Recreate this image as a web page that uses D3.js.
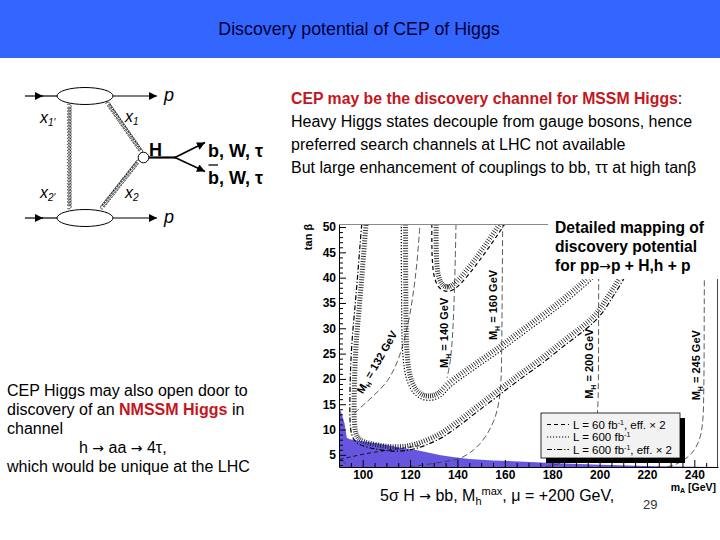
<!DOCTYPE html>
<html><head><meta charset="utf-8">
<script src="https://cdnjs.cloudflare.com/ajax/libs/d3/7.8.5/d3.min.js"></script>
<style>
html,body{margin:0;padding:0;background:#fff;}
svg{display:block;}
text{font-family:"Liberation Sans",Arial,Helvetica,sans-serif;}
</style></head><body>
<svg id="slide" width="720" height="540" viewBox="0 0 720 540"></svg>
<script>
// ---------------- data ----------------
const titleText = "Discovery potential of CEP of Higgs";
const xTickValues = [100,120,140,160,180,200,220,240];
const yTickValues = [5,10,15,20,25,30,35,40,45,50];
const xDomain = [90,250];
const yDomain = [2.6,50.6];

// excluded (shaded) region: upper edge
const excludedMA   = [90, 90.8, 92.3, 93.3, 94.6, 100, 106, 112, 117, 122, 128, 133, 138, 145, 155, 166, 180, 200, 220, 240, 250];
const excludedTanb = [13.9, 13.6, 11.3, 8.4, 8.1, 7.7, 7.3, 6.8, 6.3, 6.0, 5.4, 4.9, 4.6, 4.2, 3.9, 3.7, 3.4, 3.05, 2.8, 2.65, 2.6];

// 5 sigma contours [mA, tanb]
const contourL60eff2 = [[129.2,50.6],[129.2,47],[129.4,43.5],[130.1,40.5],[131.5,38.6],[133.5,37.6],[136,37.3],[138.5,37.7],[141.5,38.9],[145,40.8],[149,43.2],[153,45.8],[157,48.5],[160,50.6]];
const contourL600 = [[116.3,50.6],[116.3,44],[116.4,37],[116.5,31],[116.8,26],[117.6,22],[119,19.3],[121.5,17.2],[125,16],[129,15.8],[133,16.5],[137,18.4],[143,20.5],[150,22.8],[158,25.4],[166,28.2],[175,31.3],[184,34.5],[192,37.6],[199,40.6],[207,44.2],[216,48.5]];
const contourL600eff2 = [[99.6,50.6],[98.8,46],[97.8,40],[96.7,34],[95.6,28],[94.9,22],[94.6,16],[94.7,11.5],[95.4,9],[97,7.6],[100,6.8],[105,6.2],[111,5.8],[117,5.8],[122,6.2],[127,7.0],[133,8.3],[140,10.5],[148,13.4],[157,16.6],[166,19.8],[176,23.2],[186,26.9],[193,29.4],[198,31.4],[202,33.6],[205,35.8],[208,38],[212,41.2],[217,45]];
const contourLowBranch = [[90.3,4.1],[95,4.6],[100,5.1],[106,5.6],[112,6.0],[118,6.4],[124,6.8]];

// M_H iso-mass lines [mA, tanb]
const mh132 = [[96.5,13.2],[99,14.3],[103,16],[107,17.8],[110.5,19.7],[113.5,22.2],[116,25.2],[118,28.6],[119.8,32.5],[121.5,37.5],[122.9,43],[124.2,50.6]];
const mh140 = [[139.4,50.6],[139.1,44],[138.7,37],[138.2,31],[137.6,26.5],[136.8,23],[135.6,20.2]];
const mh160 = [[119.5,2.6],[127,3.1],[135,3.7],[141,4.3],[145.5,5.5],[149.5,7.2],[153,9.5],[155.8,12.3],[157.6,15.8],[158.4,20],[158.7,27],[158.9,38],[159.1,50.6]];
const mh200 = [[177,2.6],[184,3.4],[189.5,4.4],[193.5,5.7],[196.5,7.6],[198.4,10.3],[199.2,14],[199.5,20],[199.6,35],[199.7,50.6]];
const mh245 = [[228.5,2.6],[233,3.3],[237,4.5],[240.3,6.2],[242.5,8.6],[243.6,12],[244,18],[244.2,35],[244.3,50.6]];
const mhStub = [[91.3,4.1],[92.7,3.2],[94,2.6]];

const mhLabelMasses = ["132","140","160","200","245"];
const mhLabelMA   = [106,134.3,155,195.5,240.7];
const mhLabelTanb = [23.3,29.1,34.6,23,22.7];

const legendLumi = ["60","600","600"];
const legendEff  = [", eff. \u00d7 2","",", eff. \u00d7 2"];

// ---------------- styles / layout ----------------
const FONT = '"Liberation Sans",Arial,Helvetica,sans-serif';
const SERIF = '"Liberation Serif","DejaVu Serif",serif';
const ARROWFONT = '"DejaVu Sans",sans-serif';
const svg = d3.select('#slide');
const defs = svg.append('defs');
defs.append('marker').attr('id','arr').attr('viewBox','0 0 10 10').attr('refX',10).attr('refY',5)
  .attr('markerWidth',9).attr('markerHeight',8).attr('markerUnits','userSpaceOnUse').attr('orient','auto')
  .append('path').attr('d','M0,0L10,5L0,10Z').attr('fill','#000');

// title bar
svg.append('rect').attr('x',0).attr('y',0).attr('width',720).attr('height',58).attr('fill','#3366ff');
svg.append('text').attr('x',359).attr('y',35).attr('text-anchor','middle').attr('font-size',17.8)
  .attr('fill','#000033').text(titleText);

// ---------------- Feynman diagram ----------------
const fd = svg.append('g').attr('stroke','#000').attr('fill','none');
function gluon(x1,y1,x2,y2,pitch,amp){
  const dx=x2-x1, dy=y2-y1, L=Math.hypot(dx,dy), ux=dx/L, uy=dy/L, nx=-uy, ny=ux;
  const n=Math.max(1,Math.round(L/pitch)), N=n*24, pts=[];
  for(let i=0;i<=N;i++){
    const t=i/N, ph=2*Math.PI*n*t;
    const a=t*L - amp*0.85*Math.sin(ph), b=amp*Math.cos(ph)-amp;
    pts.push([x1+ux*a+nx*b, y1+uy*a+ny*b]);
  }
  fd.append('path').attr('d',d3.line()(pts)).attr('stroke-width',0.75);
}
[[96],[218]].forEach(([cy])=>{
  fd.append('ellipse').attr('cx',85).attr('cy',cy).attr('rx',28).attr('ry',8.5).attr('stroke-width',1);
  fd.append('line').attr('x1',25).attr('y1',cy).attr('x2',43).attr('y2',cy).attr('stroke-width',1.2).attr('marker-end','url(#arr)');
  fd.append('line').attr('x1',42).attr('y1',cy).attr('x2',57).attr('y2',cy).attr('stroke-width',1.2);
  fd.append('line').attr('x1',113).attr('y1',cy).attr('x2',157).attr('y2',cy).attr('stroke-width',1.2).attr('marker-end','url(#arr)');
  svg.append('text').attr('x',164).attr('y',cy+5).attr('font-family',SERIF).attr('font-style','italic').attr('font-size',18).text('p');
});
gluon(67.5,105,67.5,208,3.0,1.8);
gluon(106,104,140,153,3.0,1.8);
gluon(103,209,140,162,3.0,1.8);
fd.append('circle').attr('cx',143.5).attr('cy',157.5).attr('r',5.3).attr('fill','#fff').attr('stroke-width',1);
fd.append('line').attr('x1',149).attr('y1',157.5).attr('x2',176).attr('y2',157.5).attr('stroke-width',2.2);
fd.append('line').attr('x1',175).attr('y1',157.5).attr('x2',205).attr('y2',142.5).attr('stroke-width',1.6).attr('marker-end','url(#arr)');
fd.append('line').attr('x1',175).attr('y1',157.5).attr('x2',205).attr('y2',171.5).attr('stroke-width',1.6).attr('marker-end','url(#arr)');
function xlab(x,y,sub){
  const t=svg.append('text').attr('x',x).attr('y',y).attr('font-family',SERIF).attr('font-style','italic').attr('font-size',16);
  t.append('tspan').text('x');
  t.append('tspan').attr('font-size',10).attr('dy',3).text(sub);
}
xlab(40,123,"1\u2032"); xlab(40,198,"2\u2032"); xlab(125,122,"1"); xlab(125,198,"2");
svg.append('text').attr('x',149).attr('y',156).attr('font-size',18).attr('font-weight','bold').text('H');
svg.append('text').attr('x',208).attr('y',157).attr('font-size',18).attr('font-weight','bold').text('b, W, \u03c4');
svg.append('text').attr('x',208).attr('y',184).attr('font-size',18).attr('font-weight','bold').text('b, W, \u03c4');
svg.append('line').attr('x1',208.5).attr('x2',218).attr('y1',165).attr('y2',165).attr('stroke','#000').attr('stroke-width',1.3);

// ---------------- texts ----------------
const tr = svg.append('g').attr('font-size',16);
tr.append('text').attr('x',291).attr('y',104).attr('fill','#c4161c').attr('font-weight','bold').attr('font-size',15.8)
  .text('CEP may be the discovery channel for MSSM Higgs').append('tspan').attr('fill','#000').attr('font-weight','normal').text(':');
tr.append('text').attr('x',291).attr('y',127).text('Heavy Higgs states decouple from gauge bosons, hence');
tr.append('text').attr('x',291).attr('y',150).text('preferred search channels at LHC not available');
tr.append('text').attr('x',291).attr('y',173).text('But large enhancement of couplings to bb, \u03c4\u03c4 at high tan\u03b2');

const bl = svg.append('g').attr('font-size',16);
bl.append('text').attr('x',7).attr('y',396).text('CEP Higgs may also open door to');
const l2 = bl.append('text').attr('x',7).attr('y',415);
l2.append('tspan').text('discovery of an ');
l2.append('tspan').attr('fill','#c4161c').attr('font-weight','bold').text('NMSSM Higgs');
l2.append('tspan').text(' in');
bl.append('text').attr('x',7).attr('y',434).text('channel');
const l4 = bl.append('text').attr('x',79).attr('y',453);
l4.append('tspan').text('h ');
l4.append('tspan').attr('font-family',ARROWFONT).attr('font-size',14).text('\u2192');
l4.append('tspan').text(' aa ');
l4.append('tspan').attr('font-family',ARROWFONT).attr('font-size',14).text('\u2192');
l4.append('tspan').text(' 4\u03c4,');
bl.append('text').attr('x',7).attr('y',472).text('which would be unique at the LHC');

// ---------------- chart ----------------
const x = d3.scaleLinear().domain(xDomain).range([339,718]);
const y = d3.scaleLinear().domain(yDomain).range([467,224]);
const plot = svg.append('g');
defs.append('clipPath').attr('id','clipPlot').append('rect')
  .attr('x',339).attr('y',224).attr('width',379).attr('height',243);
const inner = plot.append('g').attr('clip-path','url(#clipPlot)');

// shaded excluded region
const excl = excludedMA.map((m,i)=>[m,excludedTanb[i]]);
inner.append('path').datum(excl)
  .attr('d',d3.area().x(d=>x(d[0])).y0(y(yDomain[0])).y1(d=>y(d[1])))
  .attr('fill','#6656df');

const lineGen = d3.line().x(d=>x(d[0])).y(d=>y(d[1])).curve(d3.curveCatmullRom.alpha(0.5));

// M_H lines
[mh132,mh140,mh160,mh200,mh245,mhStub].forEach(arr=>{
  inner.append('path').datum(arr).attr('d',lineGen).attr('fill','none')
    .attr('stroke','#333').attr('stroke-width',0.8).attr('stroke-dasharray','6,3');
});
inner.append('path').datum(contourLowBranch).attr('d',lineGen).attr('fill','none')
  .attr('stroke','#111').attr('stroke-width',1).attr('stroke-dasharray','4,3');

function hatched(arr, dash){
  const p = inner.append('path').datum(arr).attr('d',lineGen).attr('fill','none')
    .attr('stroke','#000').attr('stroke-width',1.2).attr('stroke-dasharray',dash);
  const node=p.node(), L=node.getTotalLength();
  let d='';
  for(let s=1;s<L-1;s+=2.6){
    const a0=node.getPointAtLength(Math.max(0,s-0.6)), a1=node.getPointAtLength(Math.min(L,s+0.6)), pt=node.getPointAtLength(s);
    let ax=a1.x-a0.x, ay=a1.y-a0.y; const n=Math.hypot(ax,ay)||1; ax/=n; ay/=n;
    const nx=ay, ny=-ax;
    d+=`M${(pt.x+nx*1.8).toFixed(2)},${(pt.y+ny*1.8).toFixed(2)}L${(pt.x+nx*6.8).toFixed(2)},${(pt.y+ny*6.8).toFixed(2)}`;
  }
  inner.append('path').attr('d',d).attr('fill','none').attr('stroke','#1a1a1a').attr('stroke-width',0.9);
}
const styleL60eff2='4,3', styleL600='1.2,1.8', styleL600eff2='5,2,1.2,2';
hatched(contourL60eff2, styleL60eff2);
hatched(contourL600, styleL600);
hatched(contourL600eff2, styleL600eff2);

// M_H labels
mhLabelMasses.forEach((m,i)=>{
  const rot = i===0 ? -60 : -90;
  const t = inner.append('text').attr('transform',`translate(${x(mhLabelMA[i])},${y(mhLabelTanb[i])}) rotate(${rot})`)
    .attr('text-anchor','middle').attr('dy','0.35em').attr('font-size',11).attr('font-weight','bold');
  t.append('tspan').text('M');
  t.append('tspan').attr('font-size',7).attr('dy',3).text('H');
  t.append('tspan').attr('dy',-3).text(' = '+m+' GeV');
});

// axes
const gy = plot.append('g').attr('transform','translate(339,0)')
  .call(d3.axisLeft(y).tickValues(yTickValues).tickSize(-7).tickSizeOuter(0).tickPadding(3));
gy.attr('font-family',FONT).attr('font-size',12).attr('font-weight','bold');
plot.append('g').attr('transform','translate(339,0)')
  .call(d3.axisLeft(y).tickValues(d3.range(3,51).filter(v=>v%5)).tickSize(-4).tickSizeOuter(0).tickFormat(''))
  .select('.domain').remove();
const gx = plot.append('g').attr('transform','translate(0,467)')
  .call(d3.axisBottom(x).tickValues(xTickValues).tickSize(-7).tickSizeOuter(0).tickPadding(3));
gx.attr('font-family',FONT).attr('font-size',12).attr('font-weight','bold');
plot.append('g').attr('transform','translate(0,467)')
  .call(d3.axisBottom(x).tickValues(d3.range(95,250,5).filter(v=>v%20)).tickSize(-4).tickSizeOuter(0).tickFormat(''))
  .select('.domain').remove();
plot.append('line').attr('x1',339).attr('x2',718).attr('y1',224.5).attr('y2',224.5).attr('stroke','#888');
plot.append('line').attr('x1',717.5).attr('x2',717.5).attr('y1',224).attr('y2',467).attr('stroke','#444');

// axis titles
const yt = svg.append('text').attr('transform','translate(312,237) rotate(-90)').attr('text-anchor','middle')
  .attr('font-size',11).attr('font-weight','bold');
yt.text('tan \u03b2');
const xt = svg.append('text').attr('x',716).attr('y',491).attr('text-anchor','end').attr('font-size',10.5).attr('font-weight','bold');
xt.append('tspan').text('m');
xt.append('tspan').attr('font-size',7).attr('dy',2).text('A');
xt.append('tspan').attr('dy',-2).text(' [GeV]');

// legend
const lg = svg.append('g');
lg.append('rect').attr('x',546).attr('y',418).attr('width',139).attr('height',45).attr('fill','#000');
lg.append('rect').attr('x',541).attr('y',413).attr('width',139).attr('height',45).attr('fill','#f2f2f2').attr('stroke','#000').attr('stroke-width',0.8);
const legendStyles=[styleL60eff2,styleL600,styleL600eff2];
legendLumi.forEach((l,i)=>{
  const cy = 424.5 + i*12.5;
  lg.append('line').attr('x1',547).attr('x2',569).attr('y1',cy).attr('y2',cy).attr('stroke','#000').attr('stroke-width',1).attr('stroke-dasharray',legendStyles[i]);
  const t = lg.append('text').attr('x',573).attr('y',cy+4).attr('font-size',11.5);
  t.append('tspan').text('L = '+l+' fb');
  t.append('tspan').attr('font-size',7).attr('dy',-4).text('-1');
  t.append('tspan').attr('dy',4).text(legendEff[i]);
});

// white box with description
svg.append('rect').attr('x',548).attr('y',212).attr('width',172).attr('height',67).attr('fill','#fff');
const dm = svg.append('g').attr('font-size',15.6).attr('font-weight','bold');
dm.append('text').attr('x',555).attr('y',232.5).text('Detailed mapping of');
dm.append('text').attr('x',555).attr('y',251.5).text('discovery potential');
const dm3 = dm.append('text').attr('x',555).attr('y',270.5);
dm3.append('tspan').text('for pp');
dm3.append('tspan').attr('font-family',ARROWFONT).attr('font-weight','normal').attr('font-size',14).text('\u2192');
dm3.append('tspan').text('p + H,h + p');

// caption
const cap = svg.append('text').attr('x',380).attr('y',501).attr('font-size',16);
cap.append('tspan').text('5\u03c3 H ');
cap.append('tspan').attr('font-family',ARROWFONT).attr('font-size',14).text('\u2192');
cap.append('tspan').text(' bb, M');
cap.append('tspan').attr('font-size',11).attr('dy',4).text('h');
cap.append('tspan').attr('font-size',11).attr('dy',-10).text('max');
cap.append('tspan').attr('dy',6).text(', \u03bc = +200 GeV,');
svg.append('text').attr('x',643).attr('y',509).attr('font-size',13).attr('fill','#333').text('29');
</script>
</body></html>
